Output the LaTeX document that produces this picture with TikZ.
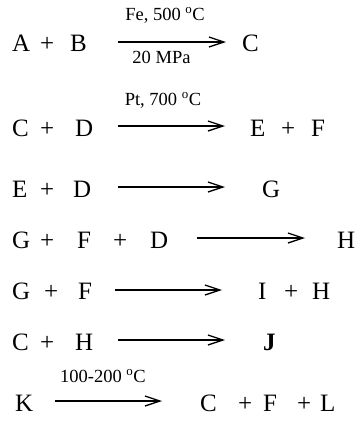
\documentclass[tikz,border=0pt]{standalone}
\usepackage{fontspec}
\setmainfont{Liberation Serif}
\usetikzlibrary{arrows.meta}
\tikzset{
  sp/.style={anchor=base west, inner sep=0pt, font=\fontsize{25}{25}\selectfont},
  cond/.style={anchor=base, inner sep=0pt, font=\fontsize{18.5}{18.5}\selectfont},
  rxn/.style={line width=1.3pt, -{Straight Barb[length=15pt,width=10pt,line width=1.3pt]}}
}
\newcommand{\degC}{\textsuperscript{o}C}
\begin{document}
\begin{tikzpicture}[x=1pt,y=-1pt]
\useasboundingbox (0,0) rectangle (357,421);
% reaction 1
\node[sp] (a1) at (12,51) {A};
\node[sp] (p1a) at (40,51) {+};
\node[sp] (b1) at (70,51) {B};
\coordinate (s1) at (118,42); \coordinate (e1) at (226,42);
\draw[rxn] (s1) -- (e1);
\node[cond] (c1a) at (165,20) {Fe, 500 \degC};
\node[cond] (c1b) at (161.5,63) {20 MPa};
\node[sp] (c1) at (242,51) {C};
% reaction 2
\node[sp] (c2) at (12,136) {C};
\node[sp] (p2a) at (40,136) {+};
\node[sp] (d2) at (75,136) {D};
\coordinate (s2) at (118,126); \coordinate (e2) at (225,126);
\draw[rxn] (s2) -- (e2);
\node[cond] (c2a) at (163,105) {Pt, 700 \degC};
\node[sp] (e2p) at (250,136) {E};
\node[sp] (p2b) at (281,136) {+};
\node[sp] (f2) at (311,136) {F};
% reaction 3
\node[sp] (e3) at (12,197) {E};
\node[sp] (p3a) at (40,197) {+};
\node[sp] (d3) at (73,197) {D};
\coordinate (s3) at (118,187); \coordinate (e3e) at (225,187);
\draw[rxn] (s3) -- (e3e);
\node[sp] (g3) at (262,197) {G};
% reaction 4
\node[sp] (g4) at (12,248) {G};
\node[sp] (p4a) at (40,248) {+};
\node[sp] (f4) at (77,248) {F};
\node[sp] (p4b) at (113,248) {+};
\node[sp] (d4) at (150,248) {D};
\coordinate (s4) at (197,238); \coordinate (e4) at (305,238);
\draw[rxn] (s4) -- (e4);
\node[sp] (h4) at (337,248) {H};
% reaction 5
\node[sp] (g5) at (12,299) {G};
\node[sp] (p5a) at (44,299) {+};
\node[sp] (f5) at (78,299) {F};
\coordinate (s5) at (115,290); \coordinate (e5) at (222,290);
\draw[rxn] (s5) -- (e5);
\node[sp] (i5) at (258,299) {I};
\node[sp] (p5b) at (284,299) {+};
\node[sp] (h5) at (312,299) {H};
% reaction 6
\node[sp] (c6) at (12,350) {C};
\node[sp] (p6a) at (40,350) {+};
\node[sp] (h6) at (75,350) {H};
\coordinate (s6) at (118,340); \coordinate (e6) at (225,340);
\draw[rxn] (s6) -- (e6);
\node[sp] (j6) at (263,350) {\textbf{J}};
% reaction 7
\node[sp] (k7) at (15,411) {K};
\coordinate (s7) at (55,401); \coordinate (e7) at (162,401);
\draw[rxn] (s7) -- (e7);
\node[cond] (c7a) at (103,382) {100-200 \degC};
\node[sp] (c7) at (200,411) {C};
\node[sp] (p7a) at (238,411) {+};
\node[sp] (f7) at (263,411) {F};
\node[sp] (p7b) at (297,411) {+};
\node[sp] (l7) at (320,411) {L};
\end{tikzpicture}
\end{document}
